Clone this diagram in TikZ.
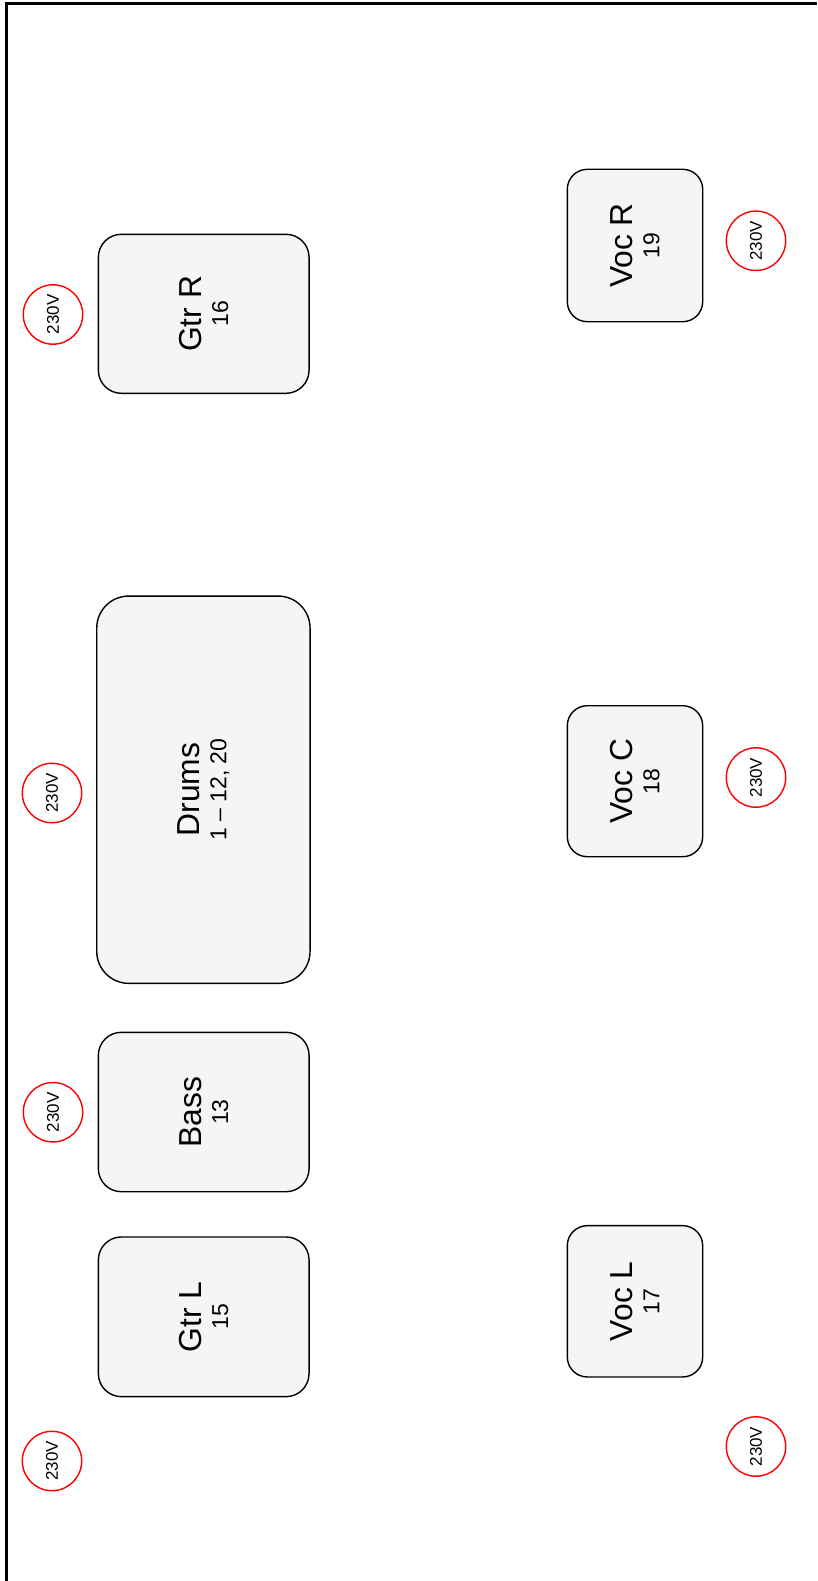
\documentclass[tikz,border=0pt]{standalone}
\usepackage{fontspec}
\setmainfont{Liberation Sans}
\definecolor{boxfill}{HTML}{F5F5F5}
\definecolor{plugred}{HTML}{FF0000}
\begin{document}
\begin{tikzpicture}[x=1pt,y=-1pt,
  inst/.style={draw=black, fill=boxfill, line width=1.4pt, rotate=90, align=center,
    inner sep=0pt, outer sep=0pt,
    node font=\fontsize{31.8}{27}\selectfont},
  plug/.style={circle, draw=plugred, line width=1.4pt, rotate=90, inner sep=0pt,
    minimum size=59.4pt, font=\fontsize{17}{18}\selectfont}]
\useasboundingbox (0,0) rectangle (817,1581);
\fill[white] (0,0) rectangle (817,1581);
\draw[line width=3pt, line join=miter] (6.5,1581) -- (6.5,3.2) -- (817,3.2);

\newcommand{\sub}[1]{{\fontsize{23}{27}\selectfont #1}}

\node[inst, rounded corners=23pt, minimum width=159pt, minimum height=210.7pt] (gtrr) at (203.7,313.8) {Gtr R\\\sub{16}};
\node[inst, rounded corners=32pt, minimum width=387.3pt, minimum height=213.3pt] (drums) at (203.4,789.7) {Drums\\\sub{1 – 12, 20}};
\node[inst, rounded corners=23pt, minimum width=159.4pt, minimum height=210.7pt] (bass) at (203.7,1112) {Bass\\\sub{13}};
\node[inst, rounded corners=23pt, minimum width=159.7pt, minimum height=210.7pt] (gtrl) at (203.7,1316.8) {Gtr L\\\sub{15}};
\node[inst, rounded corners=20pt, minimum width=152.4pt, minimum height=135.4pt] (vocr) at (635,245.5) {Voc R\\\sub{19}};
\node[inst, rounded corners=20pt, minimum width=151pt, minimum height=135.4pt] (vocc) at (635,781.2) {Voc C\\\sub{18}};
\node[inst, rounded corners=20pt, minimum width=151.3pt, minimum height=135.4pt] (vocl) at (635,1301.3) {Voc L\\\sub{17}};

\node[plug] (pgtrr) at (53,314.5) {230V};
\node[plug] (pdrums) at (52,793) {230V};
\node[plug] (pbass) at (53,1112.2) {230V};
\node[plug] (pgtrl) at (52,1461) {230V};
\node[plug] (pvocr) at (756,240.8) {230V};
\node[plug] (pvocc) at (756,777.5) {230V};
\node[plug] (pvocl) at (756,1446.5) {230V};
\end{tikzpicture}
\end{document}
